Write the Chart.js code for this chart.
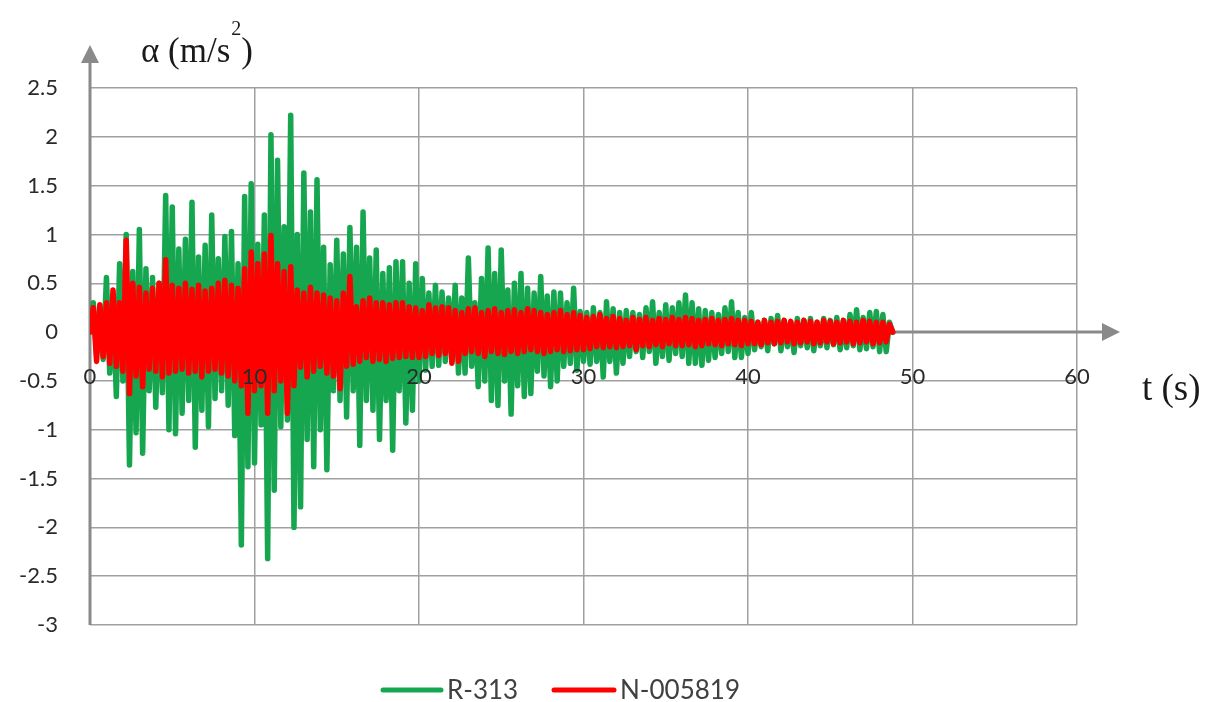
<!DOCTYPE html>
<html>
<head>
<meta charset="utf-8">
<script src="https://cdn.jsdelivr.net/npm/chart.js@4.4.0/dist/chart.umd.min.js"></script>
<style>
  html, body { margin: 0; padding: 0; background: #fff; }
  #wrap { width: 1213px; height: 702px; }
</style>
</head>
<body>
<div id="wrap"><canvas id="myChart"></canvas></div>
<script>
// sampling step of both records (s)
const dt = 0.2

// R-313, one row = 2 s
const r313 = [
  0, 0.3, -0.22, 0.25, -0.28, 0.56, -0.42, 0.38, -0.66, 0.7,
  -0.5, 1.0, -1.36, 0.62, -1.03, 1.05, -1.24, 0.65, -0.6, 0.56,
  -0.77, 0.5, -0.62, 1.4, -1.0, 1.28, -1.04, 0.85, -0.83, 0.95,
  -0.7, 1.33, -1.18, 0.77, -0.8, 0.89, -0.97, 1.2, -0.68, 0.75,
  -0.6, 0.98, -0.75, 1.03, -1.06, 0.7, -2.18, 1.39, -1.38, 1.52,
  -1.34, 0.9, -0.95, 1.2, -2.32, 2.02, -1.62, 1.76, -0.97, 1.08,
  -0.9, 2.22, -2.0, 1.0, -1.79, 1.63, -1.1, 1.23, -1.38, 1.56,
  -1.0, 0.87, -1.41, 0.69, -0.6, 0.94, -0.7, 0.8, -0.87, 1.07,
  -0.6, 0.87, -1.16, 1.23, -0.7, 0.76, -0.8, 0.84, -1.1, 0.6,
  -0.7, 0.66, -1.21, 0.72, -0.6, 0.72, -0.93, 0.5, -0.8, 0.7,
  -0.5, 0.55, -0.39, 0.4, -0.35, 0.48, -0.34, 0.41, -0.3, 0.35,
  -0.3, 0.48, -0.42, 0.35, -0.42, 0.76, -0.35, 0.3, -0.56, 0.55,
  -0.5, 0.86, -0.7, 0.6, -0.75, 0.84, -0.5, 0.43, -0.84, 0.5,
  -0.55, 0.6, -0.66, 0.45, -0.63, 0.4, -0.4, 0.57, -0.45, 0.37,
  -0.56, 0.41, -0.5, 0.4, -0.35, 0.3, -0.32, 0.45, -0.39, 0.21,
  -0.3, 0.2, -0.33, 0.25, -0.3, 0.2, -0.46, 0.31, -0.3, 0.24,
  -0.42, 0.2, -0.32, 0.22, -0.25, 0.2, -0.2, 0.18, -0.26, 0.25,
  -0.2, 0.31, -0.32, 0.2, -0.25, 0.28, -0.29, 0.25, -0.22, 0.3,
  -0.25, 0.38, -0.32, 0.3, -0.32, 0.24, -0.34, 0.22, -0.29, 0.2,
  -0.26, 0.18, -0.22, 0.25, -0.2, 0.31, -0.26, 0.2, -0.26, 0.15,
  -0.22, 0.2, -0.18, 0.1, -0.15, 0.12, -0.19, 0.14, -0.12, 0.17,
  -0.19, 0.12, -0.15, 0.1, -0.21, 0.14, -0.14, 0.12, -0.16, 0.14,
  -0.19, 0.1, -0.14, 0.14, -0.16, 0.12, -0.13, 0.15, -0.18, 0.12,
  -0.16, 0.18, -0.14, 0.23, -0.18, 0.15, -0.17, 0.2, -0.15, 0.21,
  -0.2, 0.18, -0.2, 0.1, 0
]

// N-005819, same sampling
const n005819 = [
  0, 0.25, -0.3, 0.28, -0.25, 0.3, -0.32, 0.43, -0.35, 0.3,
  -0.4, 0.94, -0.63, 0.5, -0.45, 0.46, -0.56, 0.4, -0.38, 0.45,
  -0.4, 0.5, -0.46, 0.74, -0.42, 0.48, -0.4, 0.45, -0.38, 0.5,
  -0.42, 0.44, -0.4, 0.48, -0.46, 0.42, -0.4, 0.45, -0.38, 0.5,
  -0.42, 0.53, -0.45, 0.48, -0.5, 0.45, -0.55, 0.65, -0.83, 0.82,
  -0.6, 0.7, -0.55, 0.8, -0.83, 0.99, -0.6, 0.7, -0.5, 0.62,
  -0.83, 0.67, -0.55, 0.43, -0.36, 0.4, -0.46, 0.46, -0.4, 0.4,
  -0.35, 0.38, -0.42, 0.35, -0.45, 0.32, -0.58, 0.4, -0.35, 0.57,
  -0.33, 0.26, -0.3, 0.32, -0.26, 0.35, -0.3, 0.3, -0.28, 0.3,
  -0.3, 0.28, -0.27, 0.3, -0.26, 0.3, -0.25, 0.26, -0.26, 0.25,
  -0.26, 0.22, -0.25, 0.28, -0.22, 0.25, -0.24, 0.26, -0.22, 0.25,
  -0.32, 0.22, -0.3, 0.2, -0.22, 0.24, -0.2, 0.25, -0.22, 0.2,
  -0.25, 0.22, -0.2, 0.24, -0.22, 0.2, -0.23, 0.22, -0.2, 0.23,
  -0.22, 0.2, -0.2, 0.24, -0.18, 0.22, -0.2, 0.2, -0.22, 0.18,
  -0.2, 0.2, -0.18, 0.22, -0.2, 0.18, -0.19, 0.2, -0.18, 0.17,
  -0.18, 0.15, -0.17, 0.16, -0.15, 0.18, -0.16, 0.14, -0.15, 0.16,
  -0.16, 0.14, -0.15, 0.12, -0.14, 0.15, -0.18, 0.13, -0.14, 0.15,
  -0.15, 0.12, -0.13, 0.14, -0.15, 0.13, -0.12, 0.15, -0.14, 0.13,
  -0.14, 0.15, -0.13, 0.14, -0.15, 0.12, -0.14, 0.13, -0.12, 0.14,
  -0.13, 0.12, -0.14, 0.13, -0.12, 0.14, -0.13, 0.12, -0.14, 0.12,
  -0.12, 0.11, -0.12, 0.1, -0.13, 0.12, -0.11, 0.1, -0.12, 0.11,
  -0.11, 0.12, -0.1, 0.11, -0.12, 0.1, -0.11, 0.12, -0.1, 0.11,
  -0.12, 0.1, -0.11, 0.12, -0.1, 0.11, -0.12, 0.1, -0.11, 0.12,
  -0.1, 0.11, -0.12, 0.1, -0.11, 0.12, -0.1, 0.11, -0.12, 0.1,
  -0.11, 0.1, -0.1, 0.08, 0
]

const seriesNames = ['R-313', 'N-005819']
const seriesColors = ['#17a650', '#ff0000']
const xRange = [0, 60]
const yRange = [-3, 2.5]

const toPoints = arr => arr.map((v, i) => ({ x: +(i * dt).toFixed(1), y: v }))

const gridColor = '#a0a0a0'
const axisColor = '#8a8a8a'
const tickFont = '22px Lato'

// axis arrows, x tick labels over the data, axis titles and legend
const decor = {
  id: 'decor',
  beforeDatasetsDraw(chart) {
    const { ctx, chartArea: a, scales: { y } } = chart
    const y0 = y.getPixelForValue(0)
    ctx.save()
    ctx.strokeStyle = axisColor
    ctx.fillStyle = axisColor
    ctx.lineWidth = 3
    ctx.beginPath()
    ctx.moveTo(a.left, a.bottom)
    ctx.lineTo(a.left, 62)
    ctx.moveTo(a.left, y0)
    ctx.lineTo(1103, y0)
    ctx.stroke()
    ctx.beginPath()
    ctx.moveTo(a.left, 45)
    ctx.lineTo(a.left - 9, 63)
    ctx.lineTo(a.left + 9, 63)
    ctx.closePath()
    ctx.fill()
    ctx.beginPath()
    ctx.moveTo(1120, y0)
    ctx.lineTo(1102, y0 - 9)
    ctx.lineTo(1102, y0 + 9)
    ctx.closePath()
    ctx.fill()
    ctx.restore()
  },
  afterDatasetsDraw(chart) {
    const { ctx, scales: { x, y } } = chart
    const ly = y.getPixelForValue(0) + 45
    ctx.save()
    ctx.font = tickFont
    ctx.fillStyle = '#2a2a2a'
    ctx.textAlign = 'center'
    ctx.textBaseline = 'middle'
    x.ticks.forEach(t => {
      ctx.fillText(String(t.value), x.getPixelForValue(t.value), ly)
    })
    ctx.restore()
  },
  afterDraw(chart) {
    const { ctx } = chart
    ctx.save()
    ctx.fillStyle = '#1a1a1a'
    ctx.textBaseline = 'alphabetic'
    ctx.font = '35px "Liberation Serif"'
    let s = 'α (m/s'
    ctx.fillText(s, 141, 62)
    let w = ctx.measureText(s).width
    ctx.font = '20px "Liberation Serif"'
    ctx.fillText('2', 142 + w, 35)
    let w2 = ctx.measureText('2').width
    ctx.font = '35px "Liberation Serif"'
    ctx.fillText(')', 142 + w + w2, 62)
    ctx.font = '37px "Liberation Serif"'
    ctx.fillText('t (s)', 1142, 400)

    // legend
    ctx.font = '26px Lato'
    ctx.textBaseline = 'middle'
    ctx.lineCap = 'round'
    ctx.lineWidth = 5
    const ly = 690
    const items = [[383, 441, 447], [554, 614, 620]]
    chart.data.datasets.forEach((ds, i) => {
      const [x1, x2, tx] = items[i]
      ctx.strokeStyle = ds.borderColor
      ctx.beginPath()
      ctx.moveTo(x1, ly)
      ctx.lineTo(x2, ly)
      ctx.stroke()
      ctx.fillStyle = '#404040'
      ctx.fillText(ds.label, tx, ly + 1)
    })
    ctx.restore()
  }
}

new Chart('myChart', {
  type: 'line',
  data: {
    datasets: [
      {
        label: seriesNames[0],
        data: toPoints(r313),
        borderColor: seriesColors[0],
        backgroundColor: seriesColors[0],
        borderWidth: 5.5,
        borderJoinStyle: 'round',
        borderCapStyle: 'round',
        pointRadius: 0,
        order: 2
      },
      {
        label: seriesNames[1],
        data: toPoints(n005819),
        borderColor: seriesColors[1],
        backgroundColor: seriesColors[1],
        borderWidth: 5.5,
        borderJoinStyle: 'round',
        borderCapStyle: 'round',
        pointRadius: 0,
        order: 1
      }
    ]
  },
  options: {
    responsive: true,
    maintainAspectRatio: false,
    animation: false,
    layout: { padding: { left: 0, right: 136, top: 88, bottom: 77 } },
    plugins: {
      legend: { display: false },
      tooltip: { enabled: false }
    },
    scales: {
      x: {
        type: 'linear',
        position: { y: 0 },
        min: xRange[0],
        max: xRange[1],
        border: { display: false },
        grid: { color: gridColor, lineWidth: 1.5, drawTicks: false },
        ticks: { stepSize: 10, display: false }
      },
      y: {
        min: yRange[0],
        max: yRange[1],
        afterFit(scale) { scale.width = 90 },
        border: { display: false },
        grid: { color: gridColor, lineWidth: 1.5, drawTicks: false },
        ticks: {
          stepSize: 0.5,
          padding: 32,
          color: '#2a2a2a',
          font: { family: 'Lato', size: 22 },
          callback: v => String(v)
        }
      }
    }
  },
  plugins: [decor]
})
</script>
</body>
</html>
